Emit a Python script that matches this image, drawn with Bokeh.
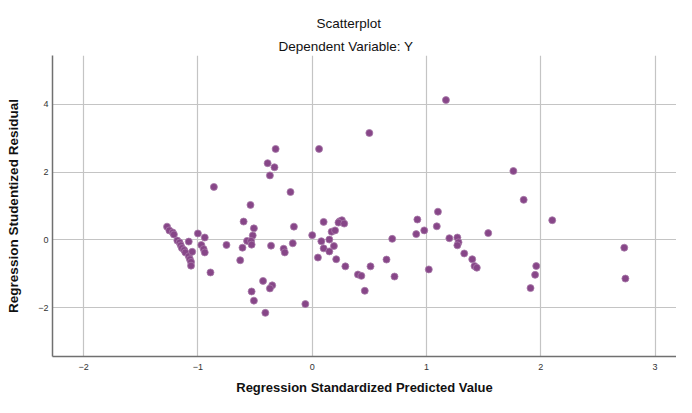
from bokeh.plotting import figure
from bokeh.models import Range1d, FixedTicker, Title, ColumnDataSource
from bokeh.embed import file_html
from bokeh.resources import INLINE

pred = [
    -1.27, -1.25, -1.22, -1.21, -1.18, -1.16, -1.15, -1.14, -1.12, -1.11, -1.08, -1.07, -1.06, -1.06,
    -1.08, -1.05, -1.00, -0.94, -0.97, -0.95, -0.94, -0.89, -0.86, -0.75,
    -0.54, -0.60, -0.51, -0.52, -0.57, -0.535, -0.53, -0.61, -0.63,
    -0.32, -0.39, -0.33, -0.37, -0.19, -0.36, -0.25, -0.24, -0.16, -0.17,
    -0.43, -0.35, -0.37, -0.53, -0.51, -0.41, -0.06,
    0.06, 0.50, 0.00, 0.10, 0.08, 0.05, 0.10, 0.15, 0.15, 0.17, 0.20, 0.19, 0.21,
    0.24, 0.26, 0.23, 0.28, 0.29,
    0.51, 0.40, 0.43, 0.46, 0.65, 0.70, 0.72,
    1.17, 1.10, 0.92, 1.09, 0.98, 0.91, 1.02, 1.20, 1.27, 1.28, 1.27, 1.33, 1.40, 1.42, 1.44, 1.54,
    1.76, 1.85, 2.10, 1.96, 1.95, 1.91, 2.73, 2.74,
]
resid = [
    0.39, 0.28, 0.22, 0.16, -0.02, -0.08, -0.16, -0.24, -0.30, -0.37, -0.48, -0.57, -0.65, -0.76,
    -0.05, -0.35, 0.19, 0.07, -0.15, -0.27, -0.37, -0.96, 1.56, -0.15,
    1.03, 0.54, 0.34, 0.13, -0.03, -0.03, -0.14, -0.23, -0.60,
    2.68, 2.26, 2.14, 1.90, 1.41, -0.17, -0.26, -0.37, 0.39, -0.10,
    -1.21, -1.34, -1.43, -1.52, -1.79, -2.15, -1.89,
    2.68, 3.15, 0.14, 0.53, -0.04, -0.52, -0.25, 0.01, -0.34, 0.24, 0.28, -0.18, -0.57,
    0.55, 0.58, 0.51, 0.48, -0.78,
    -0.78, -1.02, -1.06, -1.50, -0.58, 0.03, -1.08,
    4.12, 0.83, 0.60, 0.40, 0.28, 0.17, -0.87, 0.05, 0.07, -0.07, -0.16, -0.40, -0.57, -0.77, -0.82, 0.20,
    2.03, 1.18, 0.58, -0.77, -1.03, -1.42, -0.23, -1.14,
]
x_ticks = [-2, -1, 0, 1, 2, 3]
y_ticks = [-2, 0, 2, 4]

src = ColumnDataSource(dict(x=pred, y=resid))

FONT = "Liberation Sans"

p = figure(width=676, height=397, output_backend="svg", toolbar_location=None,
           x_range=Range1d(-2.272, 3.187), y_range=Range1d(-3.436, 5.433),
           min_border_left=52, min_border_right=0, min_border_top=55, min_border_bottom=40)
p.outline_line_color = None
p.background_fill_color = "white"
p.border_fill_color = "white"

p.title.text = "Scatterplot"
p.title.align = "left"
p.title.offset = 264
p.title.text_font = FONT
p.title.text_font_size = "13.5px"
p.title.text_font_style = "normal"
p.title.text_color = "#111111"
p.title.standoff = 9
p.add_layout(Title(text="Dependent Variable: Y", align="left", offset=226, text_font=FONT,
                   text_font_size="13.5px", text_font_style="normal", text_color="#111111",
                   standoff=3), "above")

p.scatter("x", "y", source=src, size=7, fill_color="#874688", line_color="#a77aa8",
          line_width=0.8)

for ax in (p.xaxis[0], p.yaxis[0]):
    ax.axis_line_color = "#707070"
    ax.axis_line_width = 1.5
    ax.major_tick_line_color = None
    ax.minor_tick_line_color = None
    ax.major_tick_out = 0
    ax.major_tick_in = 0
    ax.minor_tick_out = 0
    ax.minor_tick_in = 0
    ax.major_label_text_font = FONT
    ax.major_label_text_font_size = "9px"
    ax.major_label_text_color = "#333333"
    ax.axis_label_text_font = FONT
    ax.axis_label_text_font_style = "bold"
    ax.axis_label_text_color = "#111111"

p.xaxis.axis_label_text_font_size = "13px"
p.yaxis.axis_label_text_font_size = "13.5px"
p.xaxis.ticker = FixedTicker(ticks=x_ticks)
p.yaxis.ticker = FixedTicker(ticks=y_ticks)
p.xaxis.axis_label = "Regression Standardized Predicted Value"
p.yaxis.axis_label = "Regression Studentized Residual"
p.xaxis.major_label_standoff = 7
p.xaxis.axis_label_standoff = 7
p.yaxis.major_label_standoff = 4
p.yaxis.axis_label_standoff = 14
p.yaxis.major_label_orientation = "horizontal"

p.xgrid.ticker = FixedTicker(ticks=x_ticks)
p.ygrid.ticker = FixedTicker(ticks=y_ticks)
p.grid.grid_line_color = "#c4c4c4"
p.grid.grid_line_width = 1.2

p.styles = {"box-shadow": "-3px -2px 0 0 #000000"}

open("out.html", "w").write(file_html(p, INLINE))
